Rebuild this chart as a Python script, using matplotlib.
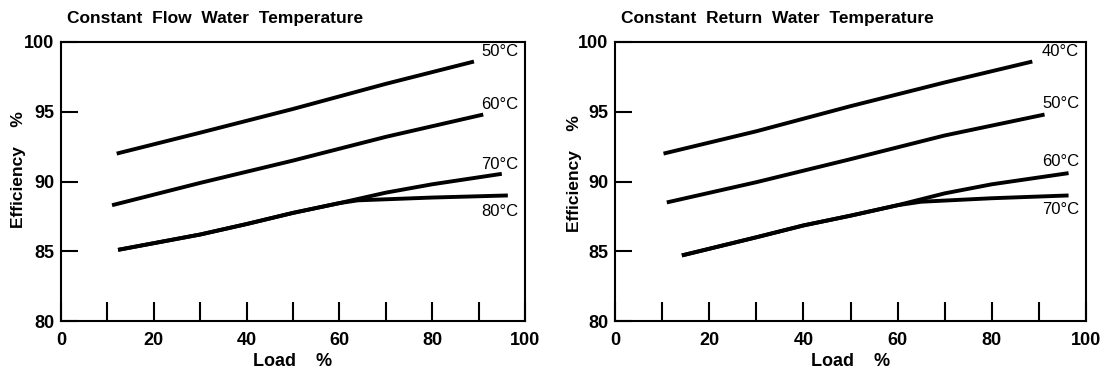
import matplotlib as mpl
import matplotlib.pyplot as plt

plt.rc('font', family=['Liberation Sans', 'DejaVu Sans'])

# left panel: constant flow water temperature
flow_50_x = [12, 30, 50, 70, 89]
flow_50_y = [92.0, 93.5, 95.2, 97.0, 98.6]
flow_60_x = [11, 30, 50, 70, 91]
flow_60_y = [88.3, 89.9, 91.5, 93.2, 94.8]
flow_70_x = [12.3, 30, 40, 50, 60, 70, 80, 95]
flow_70_y = [85.1, 86.2, 86.95, 87.75, 88.45, 89.2, 89.8, 90.55]
flow_80_x = [12.3, 30, 40, 50, 60, 64, 80, 96.3]
flow_80_y = [85.1, 86.2, 86.95, 87.75, 88.45, 88.65, 88.85, 89.0]
flow_labels = ['50°C', '60°C', '70°C', '80°C']
flow_label_y = [99.3, 95.5, 91.2, 87.85]

# right panel: constant return water temperature
ret_40_x = [10.3, 30, 50, 70, 88.6]
ret_40_y = [92.0, 93.6, 95.4, 97.1, 98.6]
ret_50_x = [11, 30, 50, 70, 91.2]
ret_50_y = [88.5, 89.95, 91.6, 93.3, 94.8]
ret_60_x = [14.2, 30, 40, 50, 60, 70, 80, 96.3]
ret_60_y = [84.7, 86.0, 86.85, 87.55, 88.3, 89.15, 89.8, 90.6]
ret_70_x = [14.2, 30, 40, 50, 60, 65, 80, 96.3]
ret_70_y = [84.7, 86.0, 86.85, 87.55, 88.3, 88.55, 88.8, 89.0]
ret_labels = ['40°C', '50°C', '60°C', '70°C']
ret_label_y = [99.3, 95.6, 91.4, 88.0]

label_x = 94.6
W, H = 1117, 376

fig = plt.figure(figsize=(W / 100, H / 100), dpi=100)
ax1 = fig.add_axes([61 / W, 1 - 321 / H, 464 / W, 279 / H])
ax2 = fig.add_axes([615 / W, 1 - 321 / H, 471 / W, 279 / H])


def style(ax, title, ylab_x, ylab_y):
    ax.set_xlim(0, 100)
    ax.set_ylim(80, 100)
    for s in ax.spines.values():
        s.set_linewidth(1.5)
    ax.set_xticks(range(0, 101, 10))
    ax.set_xticklabels([str(v) if v % 20 == 0 else '' for v in range(0, 101, 10)])
    ax.set_yticks(range(80, 101, 5))
    ax.tick_params(axis='x', direction='in', length=13.5, width=1.5, pad=8, labelsize=13)
    ax.tick_params(axis='y', direction='in', length=12.5, width=1.5, pad=5, labelsize=13)
    for lab in ax.get_xticklabels() + ax.get_yticklabels():
        lab.set_fontweight('bold')
    ax.set_xlabel('Load    %', fontsize=13, fontweight='bold', labelpad=3)
    fig.text(ylab_x / W, 1 - ylab_y / H, 'Efficiency    %', rotation=90,
             fontsize=12.5, fontweight='bold', ha='center', va='center')
    ax.text(0.013, 1.084, title, transform=ax.transAxes, fontsize=12.5,
            fontweight='bold', ha='left', va='center')


style(ax1, 'Constant  Flow  Water  Temperature', 19, 170)
style(ax2, 'Constant  Return  Water  Temperature', 574, 174)

kw = dict(color='black', lw=2.8, solid_capstyle='butt')
for xs, ys in [(flow_50_x, flow_50_y), (flow_60_x, flow_60_y),
               (flow_70_x, flow_70_y), (flow_80_x, flow_80_y)]:
    ax1.plot(xs, ys, **kw)
for lab, y in zip(flow_labels, flow_label_y):
    ax1.text(label_x, y, lab, fontsize=12, ha='center', va='center')

for xs, ys in [(ret_40_x, ret_40_y), (ret_50_x, ret_50_y),
               (ret_60_x, ret_60_y), (ret_70_x, ret_70_y)]:
    ax2.plot(xs, ys, **kw)
for lab, y in zip(ret_labels, ret_label_y):
    ax2.text(label_x, y, lab, fontsize=12, ha='center', va='center')

plt.savefig('out.png', dpi=100)
